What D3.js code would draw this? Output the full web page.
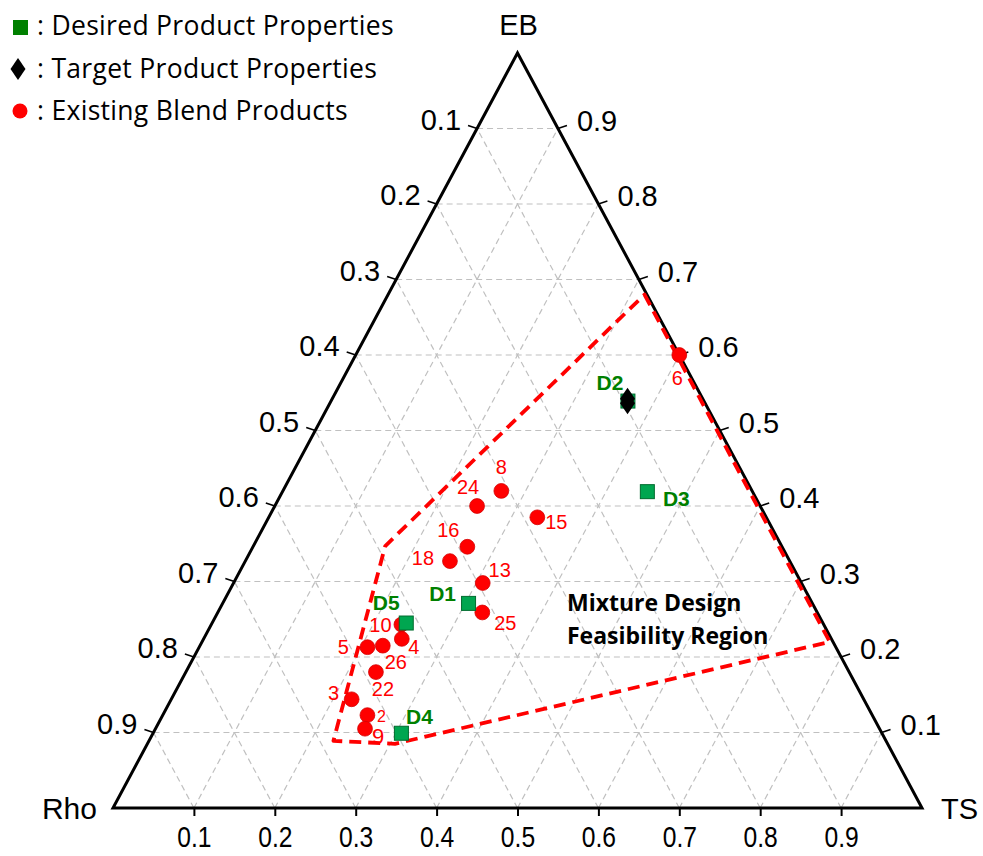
<!DOCTYPE html>
<html>
<head>
<meta charset="utf-8">
<script src="https://cdn.jsdelivr.net/npm/d3@7"></script>
<style>
  body { margin: 0; background: #fff; }
  svg { display: block; }
</style>
</head>
<body>
<div id="chart"></div>
<script>
// ---- data ----
var ticks = [0.1, 0.2, 0.3, 0.4, 0.5, 0.6, 0.7, 0.8, 0.9];

// existing blend products
var blendIds = ["8", "24", "15", "16", "18", "13", "25", "10", "4", "5", "26", "22", "3", "2", "9", "6"];
var blendRho = [0.310, 0.350, 0.283, 0.389, 0.420, 0.394, 0.414, 0.522, 0.531, 0.579, 0.559, 0.585, 0.633, 0.624, 0.636, 0.000];
var blendEB  = [0.420, 0.400, 0.385, 0.346, 0.327, 0.298, 0.259, 0.243, 0.224, 0.213, 0.215, 0.180, 0.144, 0.123, 0.105, 0.600];
var blendTS  = [0.270, 0.250, 0.332, 0.265, 0.253, 0.308, 0.327, 0.235, 0.245, 0.208, 0.226, 0.235, 0.223, 0.253, 0.259, 0.400];

// desired product properties
var desiredIds = ["D1", "D2", "D3", "D4", "D5"];
var desiredRho = [0.425, 0.094, 0.130, 0.594, 0.515];
var desiredEB  = [0.271, 0.539, 0.419, 0.099, 0.245];
var desiredTS  = [0.304, 0.367, 0.451, 0.307, 0.240];

// target product properties
var targetRho = [0.093, 0.096];
var targetEB  = [0.542, 0.536];
var targetTS  = [0.365, 0.368];

// mixture design feasibility region (polygon corners)
var regionRho = [0.003, 0.004, 0.609, 0.683, 0.490];
var regionEB  = [0.680, 0.220, 0.085, 0.089, 0.347];
var regionTS  = [0.317, 0.776, 0.306, 0.228, 0.163];

// ---- layout ----
var W = 983, H = 856;
var svg = d3.select("#chart").append("svg")
    .attr("width", W)
    .attr("height", H);

// 底邊比例尺 (TS + EB/2) 和高度比例尺 (EB)
var x = d3.scaleLinear().domain([0, 1]).range([113, 922]);
var y = d3.scaleLinear().domain([0, 1]).range([808, 53]);

function px(rho, eb, ts) { return x(ts + eb / 2); }
function py(rho, eb, ts) { return y(eb); }
function pt(rho, eb, ts) { return [px(rho, eb, ts), py(rho, eb, ts)]; }

var numFont = "'Liberation Sans', Arial, sans-serif";
var legFont = "'Open Sans', Lato, sans-serif";

// grid lines
var grid = svg.append("g")
    .attr("stroke", "#c0c0c0")
    .attr("stroke-width", 1.2)
    .attr("stroke-dasharray", "6,4")
    .attr("fill", "none");

ticks.forEach(function(k) {
    var segs = [
        [pt(1 - k, k, 0), pt(0, k, 1 - k)],   // constant EB
        [pt(1 - k, 0, k), pt(0, 1 - k, k)],   // constant TS
        [pt(k, 0, 1 - k), pt(k, 1 - k, 0)]    // constant Rho
    ];
    segs.forEach(function(s) {
        grid.append("line")
            .attr("x1", s[0][0]).attr("y1", s[0][1])
            .attr("x2", s[1][0]).attr("y2", s[1][1]);
    });
});

// triangle edges
var A = pt(1, 0, 0), B = pt(0, 0, 1), C = pt(0, 1, 0);
svg.append("path")
    .attr("d", d3.line()([A, B, C, A]) + "Z")
    .attr("fill", "none")
    .attr("stroke", "#000")
    .attr("stroke-width", 3)
    .attr("stroke-linejoin", "miter");

// bottom axis (TS)
var bottom = svg.append("g")
    .attr("transform", "translate(0,808)")
    .call(d3.axisBottom(x).tickValues(ticks).tickSize(8).tickSizeOuter(0).tickFormat(d3.format(".1f")));
bottom.select(".domain").remove();
bottom.selectAll(".tick line").attr("stroke", "#000").attr("stroke-width", 2);
bottom.selectAll(".tick text")
    .attr("y", 0)
    .attr("dy", 0)
    .attr("transform", "translate(0,39) scale(0.85,1)")
    .style("font-family", numFont)
    .style("font-size", "29px")
    .attr("fill", "#000");

// left axis (Rho), right axis (EB)
ticks.forEach(function(k) {
    var l = pt(k, 1 - k, 0);
    svg.append("line")
        .attr("x1", l[0]).attr("y1", l[1])
        .attr("x2", l[0] - 9).attr("y2", l[1] - 3)
        .attr("stroke", "#000").attr("stroke-width", 1.5);
    svg.append("text")
        .attr("x", l[0] - 16)
        .attr("y", l[1] + 1)
        .attr("text-anchor", "end")
        .style("font-family", numFont)
        .style("font-size", "29px")
        .text(d3.format(".1f")(k));

    var r = pt(0, k, 1 - k);
    svg.append("line")
        .attr("x1", r[0]).attr("y1", r[1])
        .attr("x2", r[0] + 9).attr("y2", r[1] - 3)
        .attr("stroke", "#000").attr("stroke-width", 1.5);
    svg.append("text")
        .attr("x", r[0] + 19)
        .attr("y", r[1] + 2)
        .attr("text-anchor", "start")
        .style("font-family", numFont)
        .style("font-size", "29px")
        .text(d3.format(".1f")(k));
});

// vertex labels
svg.append("text").attr("x", C[0] + 1).attr("y", 35).attr("text-anchor", "middle")
    .style("font-family", numFont).style("font-size", "29px").text("EB");
svg.append("text").attr("x", 97).attr("y", 819).attr("text-anchor", "end")
    .style("font-family", numFont).style("font-size", "30px").text("Rho");
svg.append("text").attr("x", 941).attr("y", 819).attr("text-anchor", "start")
    .style("font-family", numFont).style("font-size", "29px").text("TS");

// feasibility region
var region = regionRho.map(function(d, i) { return pt(regionRho[i], regionEB[i], regionTS[i]); });
svg.append("path")
    .attr("d", d3.line()(region) + "Z")
    .attr("fill", "none")
    .attr("stroke", "#ff0000")
    .attr("stroke-width", 3.8)
    .attr("stroke-dasharray", "12,7")
    .attr("stroke-linejoin", "round");

svg.append("text")
    .attr("x", 567).attr("y", 611)
    .style("font-family", legFont).style("font-weight", "bold").style("font-size", "23px")
    .text("Mixture Design");
svg.append("text")
    .attr("x", 567).attr("y", 644)
    .style("font-family", legFont).style("font-weight", "bold").style("font-size", "23px")
    .text("Feasibility Region");

// existing blends
var blendOffset = {
    "8": [0, -24], "24": [-9, -19], "15": [19, 4], "16": [-19, -17], "18": [-27, -3],
    "13": [17, -13], "25": [23, 10], "10": [-21, 0], "4": [12, 8], "5": [-24, 0],
    "26": [13, 16], "22": [7, 17], "3": [-18, -6], "2": [14, 1], "9": [13, 7], "6": [-2, 23]
};

svg.selectAll(".blend")
    .data(blendIds)
    .enter()
    .append("circle")
    .attr("class", "blend")
    .attr("cx", function(d, i) { return px(blendRho[i], blendEB[i], blendTS[i]); })
    .attr("cy", function(d, i) { return py(blendRho[i], blendEB[i], blendTS[i]); })
    .attr("r", 7.4)
    .attr("fill", "#ff0000")
    .attr("stroke", "#d40000")
    .attr("stroke-width", 0.8);

svg.selectAll(".blend-label")
    .data(blendIds)
    .enter()
    .append("text")
    .attr("class", "blend-label")
    .attr("x", function(d, i) { return px(blendRho[i], blendEB[i], blendTS[i]) + blendOffset[d][0]; })
    .attr("y", function(d, i) { return py(blendRho[i], blendEB[i], blendTS[i]) + blendOffset[d][1]; })
    .attr("dy", "0.36em")
    .attr("text-anchor", "middle")
    .attr("fill", "#ff0000")
    .style("font-family", numFont)
    .style("font-size", function(d) { return d === "2" ? "16px" : (d === "9" ? "22px" : "20px"); })
    .text(function(d) { return d; });

var desiredOffset = {
    "D1": [-26, -10], "D2": [-18, -19], "D3": [29, 7], "D4": [18, -17], "D5": [-20, -21]
};

svg.selectAll(".desired")
    .data(desiredIds)
    .enter()
    .append("rect")
    .attr("class", "desired")
    .attr("x", function(d, i) { return px(desiredRho[i], desiredEB[i], desiredTS[i]) - 7; })
    .attr("y", function(d, i) { return py(desiredRho[i], desiredEB[i], desiredTS[i]) - 7; })
    .attr("width", 14)
    .attr("height", 14)
    .attr("fill", "#00a650")
    .attr("stroke", "#006b2e")
    .attr("stroke-width", 1);

svg.selectAll(".desired-label")
    .data(desiredIds)
    .enter()
    .append("text")
    .attr("class", "desired-label")
    .attr("x", function(d, i) { return px(desiredRho[i], desiredEB[i], desiredTS[i]) + desiredOffset[d][0]; })
    .attr("y", function(d, i) { return py(desiredRho[i], desiredEB[i], desiredTS[i]) + desiredOffset[d][1]; })
    .attr("dy", "0.36em")
    .attr("text-anchor", "middle")
    .attr("fill", "#008000")
    .style("font-family", numFont)
    .style("font-weight", "bold")
    .style("font-size", "21px")
    .text(function(d) { return d; });

// target diamonds, on top of D2
var diamond = "M0,-11L7.5,0L0,11L-7.5,0Z";
svg.selectAll(".target")
    .data(targetRho)
    .enter()
    .append("path")
    .attr("class", "target")
    .attr("d", diamond)
    .attr("transform", function(d, i) {
        return "translate(" + px(targetRho[i], targetEB[i], targetTS[i]) + "," + py(targetRho[i], targetEB[i], targetTS[i]) + ")";
    })
    .attr("fill", "#000");

// legend
svg.append("rect").attr("x", 13).attr("y", 20).attr("width", 15).attr("height", 15).attr("fill", "#008000");
svg.append("path").attr("d", diamond).attr("transform", "translate(18,69)").attr("fill", "#000");
svg.append("circle").attr("cx", 20).attr("cy", 111).attr("r", 7.5).attr("fill", "#ff0000");

var legendText = [": Desired Product Properties", ": Target Product Properties", ": Existing Blend Products"];
svg.selectAll(".legend-text")
    .data(legendText)
    .enter()
    .append("text")
    .attr("class", "legend-text")
    .attr("x", 37)
    .attr("y", function(d, i) { return 35 + i * 42.5; })
    .style("font-family", legFont)
    .style("font-size", "26.5px")
    .style("letter-spacing", "0.3px")
    .text(function(d) { return d; });
</script>
</body>
</html>
